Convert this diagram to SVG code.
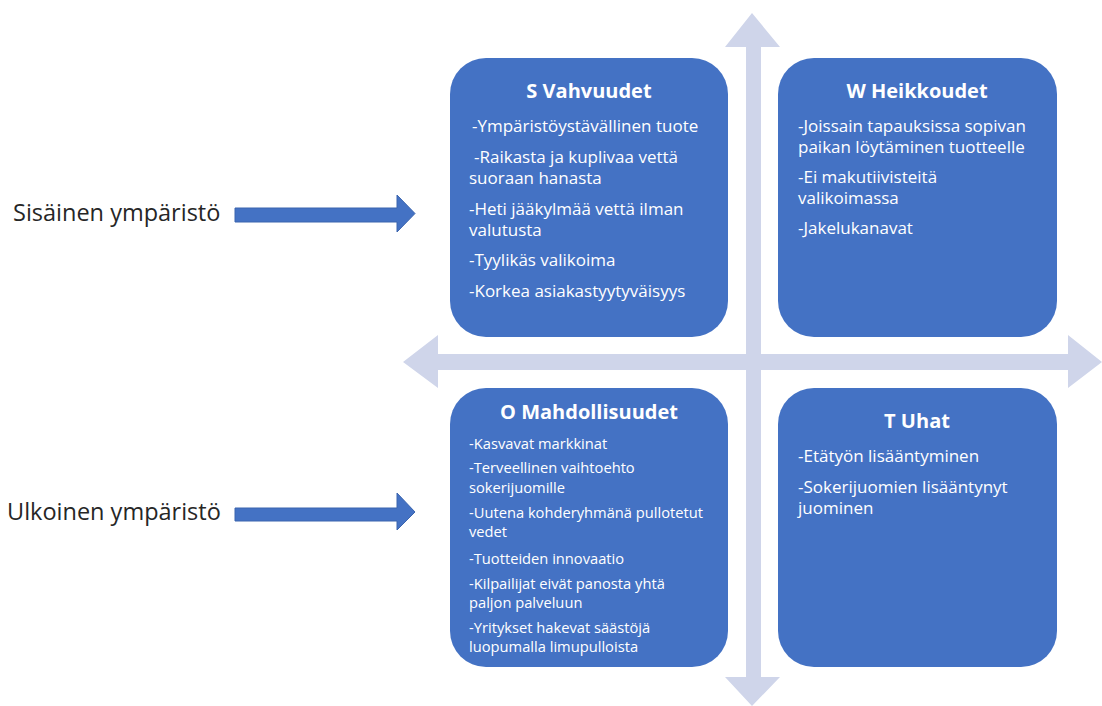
<svg xmlns="http://www.w3.org/2000/svg" width="1102" height="706" viewBox="0 0 1102 706">
<style>
.box{fill:#4472C4;}
.axis{fill:#CFD5EA;}
.ptr{fill:#4472C4;stroke:#3A64AE;stroke-width:1;}
.title{font-family:"Open Sans","Liberation Sans",sans-serif;font-weight:bold;font-size:20px;fill:#fff;text-anchor:middle;}
.body{font-family:"Open Sans","Liberation Sans",sans-serif;font-size:17px;fill:#fff;}
.small{font-family:"Open Sans","Liberation Sans",sans-serif;font-size:14.7px;fill:#fff;}
.lbl{font-family:"Open Sans","Liberation Sans",sans-serif;font-size:23.5px;fill:#262626;}
</style>
<rect width="1102" height="706" fill="#fff"/>
<g id="axes">
<polygon class="axis" points="752,13 780,47 761,47 761,677 780,677 752,706 725,677 746,677 746,47 725,47"/>
<polygon class="axis" points="403,362 438,335 438,354 1068,354 1068,335 1102,362 1068,388 1068,370 438,370 438,388"/>
</g>
<g id="label-sisainen"><text class="lbl" x="13" y="221">Sisäinen ympäristö</text></g>
<g id="label-ulkoinen"><text class="lbl" x="7" y="520">Ulkoinen ympäristö</text></g>
<g id="node-S">
<rect class="box" x="450" y="58" width="278" height="279" rx="36"/>
<text class="title" x="589" y="98">S Vahvuudet</text>
<text class="body" x="472" y="132">-Ympäristöystävällinen tuote</text>
<text class="body" x="474" y="163">-Raikasta ja kuplivaa vettä</text>
<text class="body" x="469" y="184">suoraan hanasta</text>
<text class="body" x="469" y="215">-Heti jääkylmää vettä ilman</text>
<text class="body" x="469" y="236">valutusta</text>
<text class="body" x="469" y="266">-Tyylikäs valikoima</text>
<text class="body" x="469" y="297">-Korkea asiakastyytyväisyys</text>
</g>
<g id="node-W">
<rect class="box" x="778" y="58" width="279" height="279" rx="36"/>
<text class="title" x="917" y="98">W Heikkoudet</text>
<text class="body" x="798" y="132">-Joissain tapauksissa sopivan</text>
<text class="body" x="798" y="153">paikan löytäminen tuotteelle</text>
<text class="body" x="798" y="183">-Ei makutiivisteitä</text>
<text class="body" x="798" y="204">valikoimassa</text>
<text class="body" x="798" y="234">-Jakelukanavat</text>
</g>
<g id="node-O">
<rect class="box" x="450" y="388" width="278" height="279" rx="36"/>
<text class="title" x="589" y="419">O Mahdollisuudet</text>
<text class="small" x="469" y="449">-Kasvavat markkinat</text>
<text class="small" x="469" y="473">-Terveellinen vaihtoehto</text>
<text class="small" x="469" y="493">sokerijuomille</text>
<text class="small" x="469" y="518">-Uutena kohderyhmänä pullotetut</text>
<text class="small" x="469" y="537">vedet</text>
<text class="small" x="469" y="564">-Tuotteiden innovaatio</text>
<text class="small" x="469" y="589">-Kilpailijat eivät panosta yhtä</text>
<text class="small" x="469" y="608">paljon palveluun</text>
<text class="small" x="469" y="633">-Yritykset hakevat säästöjä</text>
<text class="small" x="469" y="652">luopumalla limupulloista</text>
</g>
<g id="node-T">
<rect class="box" x="778" y="388" width="279" height="279" rx="36"/>
<text class="title" x="917" y="428">T Uhat</text>
<text class="body" x="798" y="462">-Etätyön lisääntyminen</text>
<text class="body" x="798" y="493">-Sokerijuomien lisääntynyt</text>
<text class="body" x="798" y="514">juominen</text>
</g>
<g id="connectors">
<polygon class="ptr" points="235,208 397,208 397,195 415,213.5 397,232 397,222 235,222"/>
<polygon class="ptr" points="235,508 397,508 397,493 415,512 397,530 397,521 235,521"/>
</g>
</svg>
